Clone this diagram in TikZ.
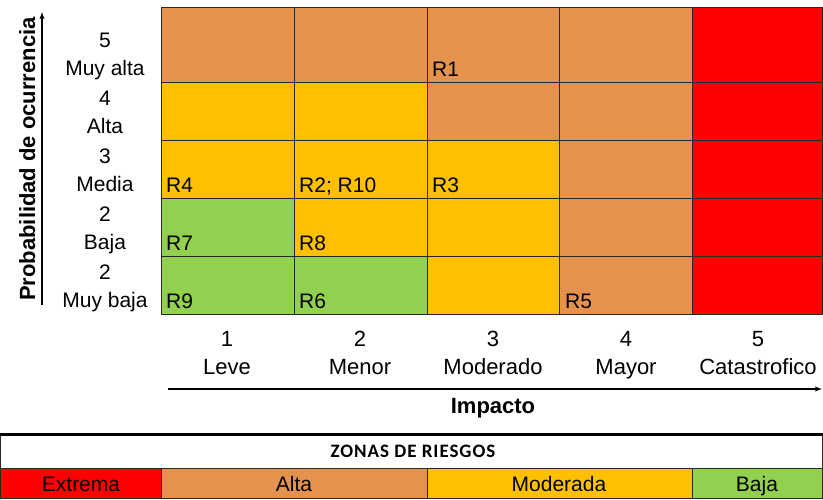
\documentclass[tikz,border=0pt]{standalone}
\usepackage{xcolor}
\usepackage{fontspec}
\usepackage{tikz}
\setmainfont{Liberation Sans}
\newfontfamily\zonafont[LetterSpace=5]{Carlito}

\definecolor{cExtrema}{RGB}{255,0,0}
\definecolor{cAlta}{RGB}{229,146,79}
\definecolor{cModerada}{RGB}{255,192,0}
\definecolor{cBaja}{RGB}{146,208,80}
\definecolor{gridgray}{RGB}{40,40,40}

\begin{document}
\begin{tikzpicture}[x=1pt,y=-1pt,
    txt/.style={inner sep=0pt,font=\fontsize{21}{25}\selectfont},
    imptxt/.style={inner sep=0pt,font=\fontsize{22}{26}\selectfont},
    risk/.style={inner sep=0pt,anchor=base west,font=\fontsize{21}{25}\selectfont},
    title/.style={inner sep=0pt,anchor=base,font=\fontsize{22}{26}\selectfont\bfseries},
    cellline/.style={draw=gridgray,line width=1pt}]
    \useasboundingbox (0,0) rectangle (823,499);

    % matrix colours
    \fill[cAlta] (161,7) rectangle (692,82);
    \fill[cAlta] (559,7) rectangle (692,314);
    \fill[cAlta] (427,82) rectangle (559,140);
    \fill[cExtrema] (692,7) rectangle (823,314);
    \fill[cModerada] (161,82) rectangle (427,140);
    \fill[cModerada] (161,140) rectangle (559,198);
    \fill[cModerada] (294,198) rectangle (559,256);
    \fill[cModerada] (427,256) rectangle (559,314);
    \fill[cBaja] (161,198) rectangle (294,256);
    \fill[cBaja] (161,256) rectangle (427,314);

    % grid
    \draw[cellline] (161,7) rectangle (822.5,314);
    \draw[cellline] (161,82) -- (822.5,82);
    \draw[cellline] (161,140) -- (822.5,140);
    \draw[cellline] (161,198) -- (822.5,198);
    \draw[cellline] (161,256) -- (822.5,256);
    \draw[cellline] (294,7) -- (294,314);
    \draw[cellline] (427,7) -- (427,314);
    \draw[cellline] (559,7) -- (559,314);
    \draw[cellline] (692,7) -- (692,314);

    % risks
    \node[risk] (r1) at (432,76) {R1};
    \node[risk] (r4) at (166,192) {R4};
    \node[risk] (r2) at (299,192) {R2; R10};
    \node[risk] (r3) at (432,192) {R3};
    \node[risk] (r7) at (166,250) {R7};
    \node[risk] (r8) at (299,250) {R8};
    \node[risk] (r9) at (166,308) {R9};
    \node[risk] (r6) at (299,308) {R6};
    \node[risk] (r5) at (565,308) {R5};

    % probability levels
    \node[txt,anchor=base] (prob5) at (105,47) {5};
    \node[txt,anchor=base] (prob5txt) at (105,75) {Muy alta};
    \node[txt,anchor=base] (prob4) at (105,105) {4};
    \node[txt,anchor=base] (prob4txt) at (105,133) {Alta};
    \node[txt,anchor=base] (prob3) at (105,163) {3};
    \node[txt,anchor=base] (prob3txt) at (105,191) {Media};
    \node[txt,anchor=base] (prob2) at (105,221) {2};
    \node[txt,anchor=base] (prob2txt) at (105,249) {Baja};
    \node[txt,anchor=base] (prob1) at (105,279) {2};
    \node[txt,anchor=base] (prob1txt) at (105,307) {Muy baja};

    % impact levels
    \node[imptxt,anchor=base] (imp1) at (227,346) {1};
    \node[imptxt,anchor=base] (imp1txt) at (227,374) {Leve};
    \node[imptxt,anchor=base] (imp2) at (360,346) {2};
    \node[imptxt,anchor=base] (imp2txt) at (360,374) {Menor};
    \node[imptxt,anchor=base] (imp3) at (493,346) {3};
    \node[imptxt,anchor=base] (imp3txt) at (493,374) {Moderado};
    \node[imptxt,anchor=base] (imp4) at (626,346) {4};
    \node[imptxt,anchor=base] (imp4txt) at (626,374) {Mayor};
    \node[imptxt,anchor=base] (imp5) at (758,346) {5};
    \node[imptxt,anchor=base] (imp5txt) at (758,374) {Catastrofico};

    % axes
    \coordinate (ystart) at (42,305);
    \coordinate (yend) at (42,12);
    \coordinate (xstart) at (168,389);
    \coordinate (xend) at (822,389);
    \draw[line width=1.3pt,-latex] (ystart) -- (yend);
    \draw[line width=1.3pt,-latex] (xstart) -- (xend);
    \node[title,rotate=90] (probtitle) at (35,159) {Probabilidad de ocurrencia};
    \node[title] (imptitle) at (493,413) {Impacto};

    % zonas
    \fill[cExtrema] (0,468) rectangle (161,499);
    \fill[cAlta] (161,468) rectangle (427,499);
    \fill[cModerada] (427,468) rectangle (692,499);
    \fill[cBaja] (692,468) rectangle (823,499);
    \draw[cellline] (0.5,435) rectangle (822.5,498.5);
    \draw[cellline] (0,468) -- (823,468);
    \draw[cellline] (161,468) -- (161,499);
    \draw[cellline] (427,468) -- (427,499);
    \draw[cellline] (692,468) -- (692,499);
    \draw[line width=3pt] (0,434.5) -- (823,434.5);
    \node[inner sep=0pt,anchor=base,font=\fontsize{19}{21}\zonafont\bfseries] (zonas) at (413,457) {ZONAS DE RIESGOS};
    \node[txt,anchor=base] (extrema) at (81,491) {Extrema};
    \node[txt,anchor=base] (alta) at (294,491) {Alta};
    \node[txt,anchor=base] (moderada) at (559,491) {Moderada};
    \node[txt,anchor=base] (baja) at (757,491) {Baja};
\end{tikzpicture}
\end{document}
